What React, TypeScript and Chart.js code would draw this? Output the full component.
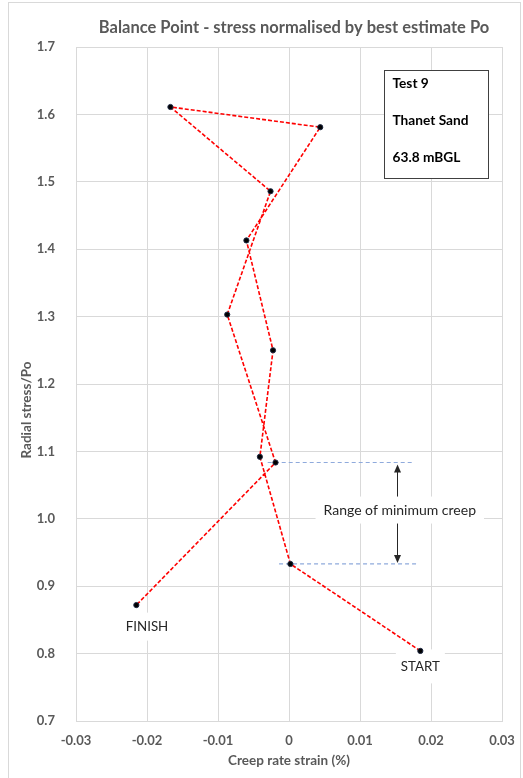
import { useEffect, useRef } from 'react';
import { Chart, registerables } from 'chart.js';
import type { Plugin } from 'chart.js';

Chart.register(...registerables);

// Test sequence in order, from START to FINISH
const creepRate = [0.0185, 0.0002, -0.0041, -0.00225, -0.006, 0.0044, -0.0167, -0.0026, -0.0087, -0.0019, -0.0215];
const radialStress = [0.804, 0.933, 1.092, 1.25, 1.413, 1.581, 1.611, 1.486, 1.303, 1.0835, 0.872];

const xTickValues = [-0.03, -0.02, -0.01, 0, 0.01, 0.02, 0.03];
const xTickLabels = ['-0.03', '-0.02', '-0.01', '0', '0.01', '0.02', '0.03'];
const yTickValues = [0.7, 0.8, 0.9, 1.0, 1.1, 1.2, 1.3, 1.4, 1.5, 1.6, 1.7];
const yTickLabels = ['0.7', '0.8', '0.9', '1.0', '1.1', '1.2', '1.3', '1.4', '1.5', '1.6', '1.7'];

const chartTitle = 'Balance Point - stress normalised by best estimate Po';
const xAxisTitle = 'Creep rate strain (%)';
const yAxisTitle = 'Radial stress/Po';

const infoLines = ['Test 9', 'Thanet Sand', '63.8 mBGL'];
const infoLineY = [1.645, 1.5915, 1.5366];
const infoBoxX = [0.01344, 0.028];
const infoBoxY = [1.6657, 1.5055];

// Minimum creep band: bounded by the 3rd-last and 2nd test points
const minCreepUpper = radialStress[9];
const minCreepLower = radialStress[1];
const upperGuideX = [-0.003, 0.0177];
const lowerGuideX = [-0.0014, 0.018];
const rangeArrowX = 0.0152;
const rangeLabel = 'Range of minimum creep';
const rangeLabelPos = { x: 0.0156, y: 1.013 };

const startLabelPos = { x: 0.0185, y: 0.781 };
const finishLabelPos = { x: -0.02, y: 0.84 };

const FONT = 'Lato, "Open Sans", sans-serif';
const GRID = '#d9d9d9';
const AXIS_TEXT = '#595959';

function boxedText(
  ctx: CanvasRenderingContext2D,
  text: string,
  cx: number,
  cy: number,
  padX: number,
  boxH: number,
  font: string,
  color: string
) {
  ctx.font = font;
  const w = ctx.measureText(text).width;
  ctx.fillStyle = '#ffffff';
  ctx.fillRect(cx - w / 2 - padX, cy - boxH / 2, w + padX * 2, boxH);
  ctx.fillStyle = color;
  ctx.textAlign = 'center';
  ctx.textBaseline = 'middle';
  ctx.fillText(text, cx, cy);
}

const overlay: Plugin<'scatter'> = {
  id: 'overlay',
  beforeDraw(chart) {
    const { ctx, width, height, chartArea } = chart;
    ctx.save();
    ctx.fillStyle = '#ffffff';
    ctx.fillRect(0, 0, width, height);
    ctx.strokeStyle = GRID;
    ctx.lineWidth = 1;
    ctx.strokeRect(8.5, 2.5, width - 11, height + 10);

    ctx.fillStyle = AXIS_TEXT;
    ctx.font = `bold 16.5px ${FONT}`;
    ctx.textAlign = 'center';
    ctx.textBaseline = 'middle';
    ctx.fillText(chartTitle, (chartArea.left + chartArea.right) / 2 + 5, 28);

    // vertical axis title
    ctx.translate(27, 410);
    ctx.rotate(-Math.PI / 2);
    ctx.font = `bold 13.5px ${FONT}`;
    ctx.fillText(yAxisTitle, 0, 0);
    ctx.restore();
  },
  beforeDatasetsDraw(chart) {
    const { ctx } = chart;
    const xs = chart.scales.x;
    const ys = chart.scales.y;
    const px = (v: number) => xs.getPixelForValue(v);
    const py = (v: number) => ys.getPixelForValue(v);
    ctx.save();

    // dashed guides marking the minimum creep band
    ctx.strokeStyle = '#8faadc';
    ctx.lineWidth = 1.2;
    ctx.setLineDash([4, 3]);
    ctx.beginPath();
    ctx.moveTo(px(upperGuideX[0]), py(minCreepUpper));
    ctx.lineTo(px(upperGuideX[1]), py(minCreepUpper));
    ctx.moveTo(px(lowerGuideX[0]), py(minCreepLower));
    ctx.lineTo(px(lowerGuideX[1]), py(minCreepLower));
    ctx.stroke();
    ctx.setLineDash([]);

    // double-headed arrow across the band
    const ax = Math.round(px(rangeArrowX)) + 0.5;
    const aTop = py(minCreepUpper) + 2;
    const aBot = py(minCreepLower) - 1;
    ctx.strokeStyle = '#262626';
    ctx.fillStyle = '#262626';
    ctx.lineWidth = 1;
    ctx.beginPath();
    ctx.moveTo(ax, aTop + 6);
    ctx.lineTo(ax, aBot - 6);
    ctx.stroke();
    ctx.beginPath();
    ctx.moveTo(ax, aTop);
    ctx.lineTo(ax - 3.5, aTop + 8);
    ctx.lineTo(ax + 3.5, aTop + 8);
    ctx.closePath();
    ctx.fill();
    ctx.beginPath();
    ctx.moveTo(ax, aBot);
    ctx.lineTo(ax - 3.5, aBot - 8);
    ctx.lineTo(ax + 3.5, aBot - 8);
    ctx.closePath();
    ctx.fill();

    boxedText(ctx, rangeLabel, px(rangeLabelPos.x), py(rangeLabelPos.y), 8, 27, `14px ${FONT}`, '#262626');
    boxedText(ctx, 'FINISH', px(finishLabelPos.x), py(finishLabelPos.y), 5, 28, `13.3px ${FONT}`, '#262626');
    boxedText(ctx, 'START', px(startLabelPos.x), py(startLabelPos.y), 5, 34, `13.3px ${FONT}`, '#262626');

    // info box
    const bx0 = Math.round(px(infoBoxX[0])) + 0.5;
    const bx1 = Math.round(px(infoBoxX[1])) + 0.5;
    const by0 = Math.round(py(infoBoxY[0])) + 0.5;
    const by1 = Math.round(py(infoBoxY[1])) + 0.5;
    ctx.fillStyle = '#ffffff';
    ctx.fillRect(bx0, by0, bx1 - bx0, by1 - by0);
    ctx.strokeStyle = '#404040';
    ctx.lineWidth = 1;
    ctx.strokeRect(bx0, by0, bx1 - bx0, by1 - by0);
    ctx.fillStyle = '#000000';
    ctx.font = `bold 13.7px ${FONT}`;
    ctx.textAlign = 'left';
    ctx.textBaseline = 'middle';
    infoLines.forEach((line, i) => ctx.fillText(line, bx0 + 8, py(infoLineY[i])));

    ctx.restore();
  },
};

export default function App() {
  const canvasRef = useRef<HTMLCanvasElement | null>(null);

  useEffect(() => {
    document.body.style.margin = '0';
    const canvas = canvasRef.current;
    if (!canvas) return;
    const tickFont = { family: FONT, size: 13, weight: 'bold' as const };
    const titleFont = { family: FONT, size: 13.5, weight: 'bold' as const };
    const chart = new Chart(canvas, {
      type: 'scatter',
      data: {
        datasets: [
          {
            data: creepRate.map((x, i) => ({ x, y: radialStress[i] })),
            showLine: true,
            borderColor: '#ff0000',
            borderWidth: 1.6,
            borderDash: [4, 2],
            pointRadius: 2.6,
            pointBackgroundColor: '#000000',
            pointBorderColor: '#1f2a44',
            pointBorderWidth: 1,
            tension: 0,
          },
        ],
      },
      options: {
        responsive: false,
        animation: false,
        devicePixelRatio: 1,
        layout: { padding: { top: 47, right: 21, bottom: 0, left: 0 } },
        plugins: {
          legend: { display: false },
          tooltip: { enabled: false },
          title: { display: false },
        },
        scales: {
          x: {
            type: 'linear',
            min: -0.03,
            max: 0.03,
            afterBuildTicks: (s) => {
              s.ticks = xTickValues.map((value) => ({ value }));
            },
            afterFit: (s) => {
              s.height = 57;
            },
            ticks: {
              padding: 0,
              color: AXIS_TEXT,
              font: tickFont,
              callback: (_v, i) => xTickLabels[i],
            },
            grid: {
              color: GRID,
              lineWidth: 1,
              drawTicks: true,
              tickLength: 12,
              tickColor: 'rgba(0,0,0,0)',
            },
            border: { color: GRID },
            title: {
              display: true,
              text: xAxisTitle,
              color: AXIS_TEXT,
              font: titleFont,
              padding: { top: 0, bottom: 9 },
            },
          },
          y: {
            type: 'linear',
            min: 0.7,
            max: 1.7,
            afterBuildTicks: (s) => {
              s.ticks = yTickValues.map((value) => ({ value }));
            },
            afterFit: (s) => {
              s.width = 76;
            },
            ticks: {
              padding: 21,
              color: AXIS_TEXT,
              font: tickFont,
              callback: (_v, i) => yTickLabels[i],
            },
            grid: { color: GRID, lineWidth: 1, drawTicks: false },
            border: { color: GRID },
            title: { display: false },
          },
        },
      },
      plugins: [overlay],
    });
    return () => chart.destroy();
  }, []);

  return (
    <div style={{ width: 523, height: 778, position: 'relative' }}>
      <canvas ref={canvasRef} width={523} height={778} style={{ display: 'block' }} />
    </div>
  );
}
